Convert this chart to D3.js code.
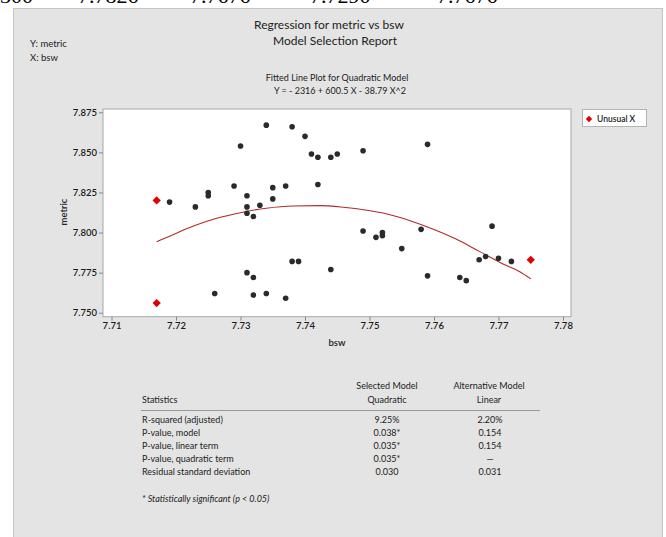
<!DOCTYPE html>
<html>
<head>
<meta charset="utf-8">
<script src="https://cdn.jsdelivr.net/npm/d3@7"></script>
<style>
  html, body { margin: 0; padding: 0; background: #fff; }
  svg { display: block; }
  text { font-family: Lato, "Noto Sans", sans-serif; fill: #222; }
</style>
</head>
<body>
<svg id="chart" width="666" height="537"></svg>
<script>
// ---------------- data ----------------
const topFragments = ["300", "7.7826", "7.7676", "7.7290", "7.7676"];
const topFragmentX = [0, 78, 190, 310, 437];

const pointsX = [7.719, 7.723, 7.725, 7.725, 7.729, 7.730, 7.734, 7.738, 7.740, 7.741,
                 7.742, 7.742, 7.731, 7.731, 7.731, 7.732, 7.733, 7.735, 7.735, 7.737,
                 7.738, 7.739, 7.731, 7.732, 7.726, 7.732, 7.734, 7.737, 7.744, 7.745,
                 7.749, 7.759, 7.744, 7.749, 7.751, 7.752, 7.752, 7.755, 7.758, 7.759,
                 7.764, 7.765, 7.767, 7.768, 7.769, 7.770, 7.772];
const pointsY = [7.819, 7.816, 7.825, 7.823, 7.829, 7.854, 7.867, 7.866, 7.860, 7.849,
                 7.847, 7.830, 7.823, 7.816, 7.812, 7.810, 7.817, 7.821, 7.828, 7.829,
                 7.782, 7.782, 7.775, 7.772, 7.762, 7.761, 7.762, 7.759, 7.847, 7.849,
                 7.851, 7.855, 7.777, 7.801, 7.797, 7.800, 7.798, 7.790, 7.802, 7.773,
                 7.772, 7.770, 7.783, 7.785, 7.804, 7.784, 7.782];

const unusualX = [7.717, 7.717, 7.775];
const unusualY = [7.820, 7.756, 7.783];

const fitX = [7.717, 7.7191, 7.7227, 7.7263, 7.7300, 7.7340, 7.7382, 7.7423, 7.7459,
              7.7496, 7.7527, 7.7563, 7.7599, 7.7635, 7.7671, 7.7707, 7.7733, 7.7750];
const fitY = [7.7943, 7.7979, 7.8041, 7.8089, 7.8124, 7.8152, 7.8166, 7.8168, 7.8158,
              7.8139, 7.8116, 7.8074, 7.8021, 7.7958, 7.7881, 7.7804, 7.7756, 7.7711];

const xTicks = [7.71, 7.72, 7.73, 7.74, 7.75, 7.76, 7.77, 7.78];
const yTicks = [7.750, 7.775, 7.800, 7.825, 7.850, 7.875];

const tableHeader = ["Statistics", "Selected Model", "Quadratic", "Alternative Model", "Linear"];
const statNames = ["R-squared (adjusted)", "P-value, model", "P-value, linear term",
                   "P-value, quadratic term", "Residual standard deviation"];
const quadraticVals = ["9.25%", "0.038*", "0.035*", "0.035*", "0.030"];
const linearVals = ["2.20%", "0.154", "0.154", "\u2014", "0.031"];
const footnote = "* Statistically significant (p < 0.05)";

// ---------------- drawing ----------------
const svg = d3.select("#chart");

// cropped text fragments at the very top (cut by the page edge, as in the reference)
const clip = svg.append("defs").append("clipPath").attr("id", "topclip");
clip.append("rect").attr("x", 0).attr("y", 0).attr("width", 666).attr("height", 7);
svg.append("g").attr("clip-path", "url(#topclip)")
  .selectAll("text").data(topFragments).join("text")
  .attr("x", (d, i) => topFragmentX[i]).attr("y", 3)
  .style("font-family", "'Liberation Serif', serif")
  .style("font-size", "22px").style("fill", "#000")
  .text(d => d);

// grey panel
svg.append("rect").attr("x", 13.5).attr("y", 8.5).attr("width", 649).attr("height", 540)
  .attr("fill", "#e4e4e4").attr("stroke", "#c4c4c4");

// titles
svg.append("text").attr("x", 329).attr("y", 29).attr("text-anchor", "middle")
  .style("font-size", "12px").text("Regression for metric vs bsw");
svg.append("text").attr("x", 335).attr("y", 45).attr("text-anchor", "middle")
  .style("font-size", "12px").text("Model Selection Report");
svg.append("text").attr("x", 30).attr("y", 47).style("font-size", "9.5px").text("Y: metric");
svg.append("text").attr("x", 30).attr("y", 61).style("font-size", "9.5px").text("X: bsw");
svg.append("text").attr("x", 337).attr("y", 81).attr("text-anchor", "middle")
  .style("font-size", "9px").text("Fitted Line Plot for Quadratic Model");
svg.append("text").attr("x", 340).attr("y", 94).attr("text-anchor", "middle")
  .style("font-size", "9px").text("Y = - 2316 + 600.5 X - 38.79 X^2");

// plot area
const L = 103, R = 571, T = 109, B = 316.7;
const x = d3.scaleLinear().domain([7.70868, 7.78124]).range([L, R]);
const y = d3.scaleLinear().domain([7.74752, 7.87706]).range([B, T]);

svg.append("rect").attr("x", L).attr("y", T).attr("width", R - L).attr("height", B - T)
  .attr("fill", "#fff").attr("stroke", "#a8a8a8");

const yAxis = svg.append("g").attr("transform", `translate(${L},0)`)
  .call(d3.axisLeft(y).tickValues(yTicks).tickFormat(d3.format(".3f")).tickSize(4).tickPadding(2));
const xAxis = svg.append("g").attr("transform", `translate(0,${B})`)
  .call(d3.axisBottom(x).tickValues(xTicks).tickFormat(d3.format(".2f")).tickSize(4).tickPadding(2));
[xAxis, yAxis].forEach(a => {
  a.select(".domain").remove();
  a.selectAll(".tick line").attr("stroke", "#888");
  a.selectAll(".tick text").style("font-size", "9.5px").style("font-family", "Lato, sans-serif")
    .style("fill", "#1a1a1a").style("font-weight", "600");
});

svg.append("text").attr("x", 337).attr("y", 346).attr("text-anchor", "middle")
  .style("font-size", "9.5px").style("font-weight", "600").text("bsw");
svg.append("text").attr("transform", "translate(67,212) rotate(-90)").attr("text-anchor", "middle")
  .style("font-size", "9.5px").style("font-weight", "600").text("metric");

// fitted line
const fitData = fitX.map((v, i) => [v, fitY[i]]);
svg.append("path").datum(fitData)
  .attr("d", d3.line().x(d => x(d[0])).y(d => y(d[1])).curve(d3.curveMonotoneX))
  .attr("fill", "none").attr("stroke", "#b02a2a").attr("stroke-width", 1.1);

// points
svg.append("g").selectAll("circle").data(pointsX.map((v, i) => [v, pointsY[i]])).join("circle")
  .attr("cx", d => x(d[0])).attr("cy", d => y(d[1])).attr("r", 2.8)
  .attr("fill", "#2a2a2a");

const diamond = d3.symbol().type(d3.symbolSquare).size(34);
svg.append("g").selectAll("path").data(unusualX.map((v, i) => [v, unusualY[i]])).join("path")
  .attr("transform", d => `translate(${x(d[0])},${y(d[1])}) rotate(45)`)
  .attr("d", diamond).attr("fill", "#e00000");

// legend
svg.append("rect").attr("x", 582.5).attr("y", 109.5).attr("width", 64).attr("height", 17)
  .attr("fill", "#fff").attr("stroke", "#b4b4b4");
svg.append("path").attr("transform", "translate(589,119) rotate(45)")
  .attr("d", d3.symbol().type(d3.symbolSquare).size(20))
  .attr("fill", "#e00000");
svg.append("text").attr("x", 597).attr("y", 122).style("font-size", "8.5px").style("font-weight", "600")
  .text("Unusual X");

// table
const c1 = 387, c2 = 489, tl = 142;
svg.append("text").attr("x", c1).attr("y", 389).attr("text-anchor", "middle").style("font-size", "9px").text(tableHeader[1]);
svg.append("text").attr("x", c1).attr("y", 403).attr("text-anchor", "middle").style("font-size", "9px").text(tableHeader[2]);
svg.append("text").attr("x", c2).attr("y", 389).attr("text-anchor", "middle").style("font-size", "9px").text(tableHeader[3]);
svg.append("text").attr("x", c2).attr("y", 403).attr("text-anchor", "middle").style("font-size", "9px").text(tableHeader[4]);
svg.append("text").attr("x", tl).attr("y", 403).style("font-size", "9px").text(tableHeader[0]);
svg.append("line").attr("x1", 141).attr("x2", 540).attr("y1", 410.5).attr("y2", 410.5)
  .attr("stroke", "#999").attr("stroke-width", 1.2);

const rowY = d3.scaleLinear().domain([0, 4]).range([422.5, 474.5]);
const rows = svg.append("g").selectAll("g").data(statNames).join("g");
rows.append("text").attr("x", tl).attr("y", (d, i) => rowY(i)).style("font-size", "9px").text(d => d);
rows.append("text").attr("x", c1).attr("y", (d, i) => rowY(i)).attr("text-anchor", "middle")
  .style("font-size", "9px").text((d, i) => quadraticVals[i]);
rows.append("text").attr("x", c2 + 1).attr("y", (d, i) => rowY(i)).attr("text-anchor", "middle")
  .style("font-size", "9px").text((d, i) => linearVals[i]);

svg.append("text").attr("x", tl).attr("y", 501.5).style("font-size", "9px").style("font-style", "italic")
  .text(footnote);
</script>
</body>
</html>
